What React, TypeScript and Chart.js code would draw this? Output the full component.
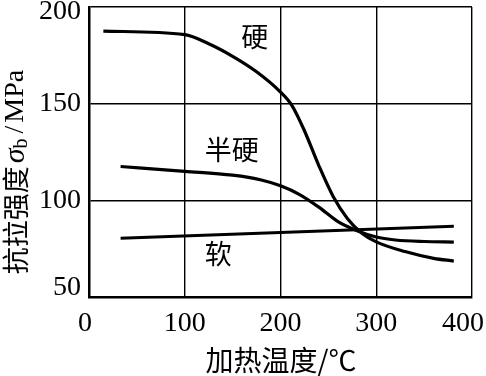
import React, { useEffect, useRef } from "react";
import { Chart, registerables } from "chart.js";

Chart.register(...registerables);

// ---- data ----
const hardTemp = [15, 100, 125, 150, 175, 200, 212, 225, 240, 255, 270, 285, 300, 330, 360, 381];
const hardStrength = [187.5, 185.7, 181, 174.5, 166.5, 156, 149, 136, 118, 102, 90.5, 83, 78.5, 73.5, 70, 68.6];

const semiTemp = [33, 100, 150, 180, 200, 220, 240, 260, 280, 300, 320, 350, 381];
const semiStrength = [117.5, 115, 113, 110.5, 107.5, 103, 96.5, 89, 84.3, 81, 79.5, 78.7, 78.4];

const softTemp = [33, 381];
const softStrength = [80.4, 86.6];

const seriesNames = ["硬", "半硬", "软"];
const xTickValues = [0, 100, 200, 300, 400];
const yTickValues = [50, 100, 150, 200];
const xTitle = "加热温度/℃";
const yTitleParts = ["抗拉强度", "σ", "b", "/", "MPa"];
// label anchors in data coordinates (temperature, strength)
const labelTemp = [173, 149, 135];
const labelStrength = [184.5, 126.3, 72.2];

const SERIF = "'Liberation Serif', 'Noto Sans CJK SC', serif";
const CJK = "'Noto Sans CJK SC', 'Liberation Serif', sans-serif";

const toPoints = (xs: number[], ys: number[]) => xs.map((x, i) => ({ x, y: ys[i] }));

const textPlugin = {
  id: "texts",
  afterDraw(chart: any) {
    const ctx = chart.ctx as CanvasRenderingContext2D;
    const xs = chart.scales.x;
    const ys = chart.scales.y;
    const area = chart.chartArea;
    ctx.save();
    ctx.fillStyle = "#000";

    // y tick labels
    ctx.font = "28px " + SERIF;
    ctx.textAlign = "right";
    ctx.textBaseline = "middle";
    yTickValues.forEach((v) => {
      let py = ys.getPixelForValue(v);
      py = Math.min(Math.max(py, area.top + 5), area.bottom - 9);
      ctx.fillText(String(v), 81, py);
    });

    // x tick labels
    ctx.textAlign = "center";
    xTickValues.forEach((v) => {
      let px = xs.getPixelForValue(v);
      const w = ctx.measureText(String(v)).width;
      px = Math.min(px, chart.width - 2 - w / 2);
      ctx.fillText(String(v), px - (v === 0 ? 4 : 0), 324);
    });

    // x title
    ctx.font = "28px " + CJK;
    ctx.textAlign = "center";
    ctx.fillText(xTitle, 281, 360);

    // curve labels
    ctx.font = "27px " + CJK;
    seriesNames.forEach((name, i) => {
      ctx.fillText(name, xs.getPixelForValue(labelTemp[i]), ys.getPixelForValue(labelStrength[i]));
    });

    // y title (rotated, with subscript)
    ctx.translate(16, 172);
    ctx.rotate(-Math.PI / 2);
    ctx.textAlign = "left";
    ctx.textBaseline = "middle";
    const fonts = ["27px " + CJK, "italic 30px " + SERIF, "20px " + SERIF, "28px " + SERIF, "28px " + SERIF];
    const offs = [0, 0, 6, 0, 0];
    const gaps = [3, 0, 5, 3, 0];
    const widths = yTitleParts.map((t, i) => {
      ctx.font = fonts[i];
      return ctx.measureText(t).width + gaps[i];
    });
    const total = widths.reduce((a, b) => a + b, 0);
    let cx = -total / 2;
    yTitleParts.forEach((t, i) => {
      ctx.font = fonts[i];
      ctx.fillText(t, cx, offs[i]);
      cx += widths[i];
    });
    ctx.restore();
  },
};

export default function App() {
  const ref = useRef<HTMLCanvasElement | null>(null);
  useEffect(() => {
    if (!ref.current) return;
    const lineStyle = {
      borderColor: "#000",
      backgroundColor: "#000",
      borderWidth: 3.2,
      pointRadius: 0,
      fill: false,
      cubicInterpolationMode: "monotone" as const,
    };
    const chart = new Chart(ref.current, {
      type: "line",
      data: {
        datasets: [
          { label: seriesNames[0], data: toPoints(hardTemp, hardStrength), ...lineStyle },
          { label: seriesNames[1], data: toPoints(semiTemp, semiStrength), ...lineStyle },
          { label: seriesNames[2], data: toPoints(softTemp, softStrength), ...lineStyle, tension: 0 },
        ],
      },
      options: {
        responsive: false,
        animation: false,
        layout: { padding: { left: 0, top: 7, right: 14, bottom: 0 } },
        plugins: { legend: { display: false }, tooltip: { enabled: false } },
        scales: {
          x: {
            type: "linear",
            min: 0,
            max: 400,
            ticks: { display: false, stepSize: 100 },
            grid: { color: "#000", lineWidth: 1.4, drawTicks: false },
            border: { color: "#000", width: 2.5 },
            afterFit: (s: any) => {
              s.height = 79;
            },
          },
          y: {
            type: "linear",
            min: 50,
            max: 200,
            ticks: { display: false, stepSize: 50 },
            grid: { color: "#000", lineWidth: 1.4, drawTicks: false },
            border: { color: "#000", width: 2.5 },
            afterFit: (s: any) => {
              s.width = 89;
            },
          },
        },
      },
      plugins: [textPlugin],
    });
    return () => chart.destroy();
  }, []);
  return (
    <div style={{ position: "fixed", left: 0, top: 0, width: 486, height: 376, background: "#fff" }}>
      <canvas ref={ref} width={486} height={376} style={{ width: 486, height: 376 }} />
    </div>
  );
}
